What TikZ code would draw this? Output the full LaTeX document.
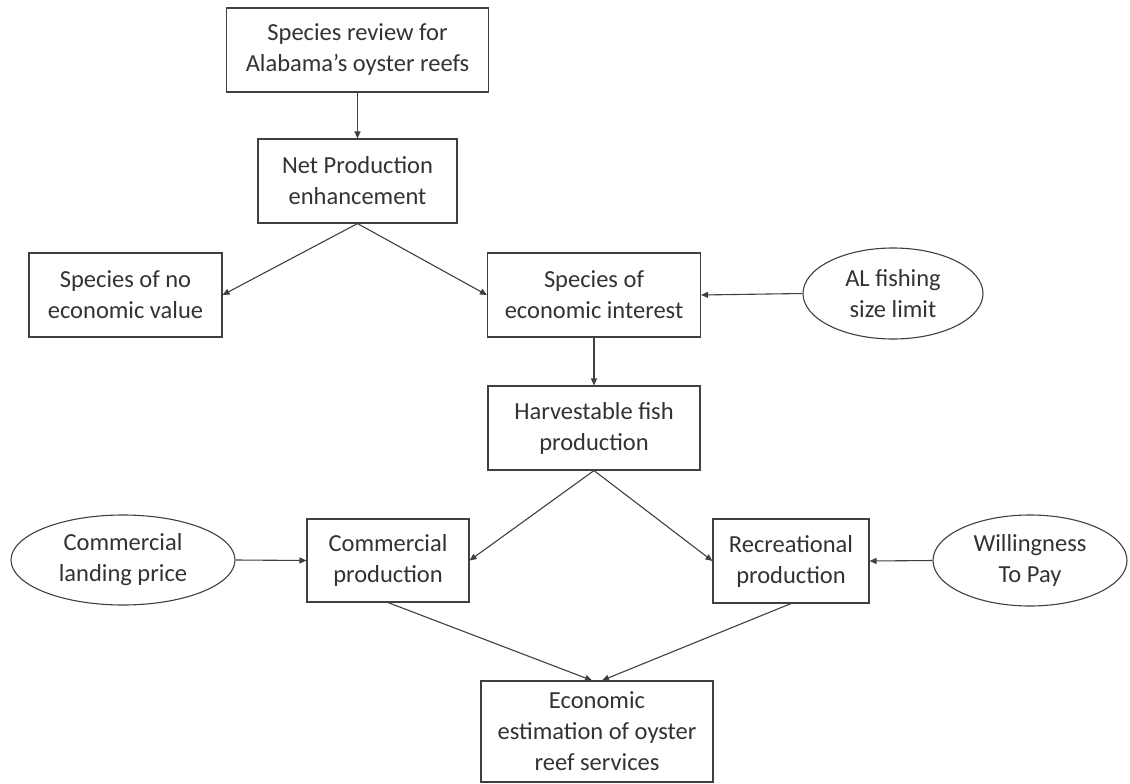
\documentclass[tikz,border=0pt]{standalone}
\usepackage{fontspec}
\setmainfont{Carlito}
\usetikzlibrary{arrows.meta,shapes.geometric}
\begin{document}
\begin{tikzpicture}[x=1pt,y=-1pt,
  every node/.style={font=\fontsize{24.5}{31}\selectfont, text=black!80, align=center, inner sep=0pt},
  boxnode/.style={draw=black!75, line width=1.1pt, rectangle},
  ovalnode/.style={draw=black!75, line width=1.1pt, ellipse},
  conn/.style={draw=black!75, line width=1.1pt, -{Triangle[length=7pt,width=6pt]}}]
\useasboundingbox[fill=white] (0,0) rectangle (1130,784);
\node[boxnode, minimum width=262pt, minimum height=84pt] (b1) at (357.5,50) {Species review for\\Alabama’s oyster reefs};
\node[boxnode, minimum width=199pt, minimum height=84pt] (b2) at (357.5,181) {Net Production\\enhancement};
\node[boxnode, minimum width=193pt, minimum height=84pt] (b3) at (125.5,295) {Species of no\\economic value};
\node[boxnode, minimum width=213pt, minimum height=84pt] (b4) at (594,295) {Species of\\economic interest};
\node[ovalnode, minimum width=180pt, minimum height=91pt] (e1) at (893,293.5) {AL fishing\\size limit};
\node[boxnode, minimum width=212pt, minimum height=84pt] (b5) at (594,428) {Harvestable fish\\production};
\node[ovalnode, minimum width=224pt, minimum height=90pt] (e2) at (123,560) {Commercial\\landing price};
\node[boxnode, minimum width=162pt, minimum height=83pt] (b6) at (388,560.5) {Commercial\\production};
\node[boxnode, minimum width=156pt, minimum height=84pt] (b7) at (791,561) {Recreational\\production};
\node[ovalnode, minimum width=194pt, minimum height=91pt] (e3) at (1030,560.5) {Willingness\\To Pay};
\node[boxnode, minimum width=232pt, minimum height=101pt] (b8) at (597,731.5) {Economic\\estimation of oyster\\reef services};
\draw[conn] (b1.south) -- (b2.north);
\draw[conn] (b2.south) -- (b3.east);
\draw[conn] (b2.south) -- (b4.west);
\draw[conn] (e1.west) -- (b4.east);
\draw[conn] (b4.south) -- (b5.north);
\draw[conn] (b5.south) -- (b6.east);
\draw[conn] (b5.south) -- (b7.west);
\draw[conn] (e2.east) -- (b6.west);
\draw[conn] (e3.west) -- (b7.east);
\draw[conn] (b6.south) -- ([xshift=-5pt]b8.north);
\draw[conn] (b7.south) -- ([xshift=5pt]b8.north);
\end{tikzpicture}
\end{document}
